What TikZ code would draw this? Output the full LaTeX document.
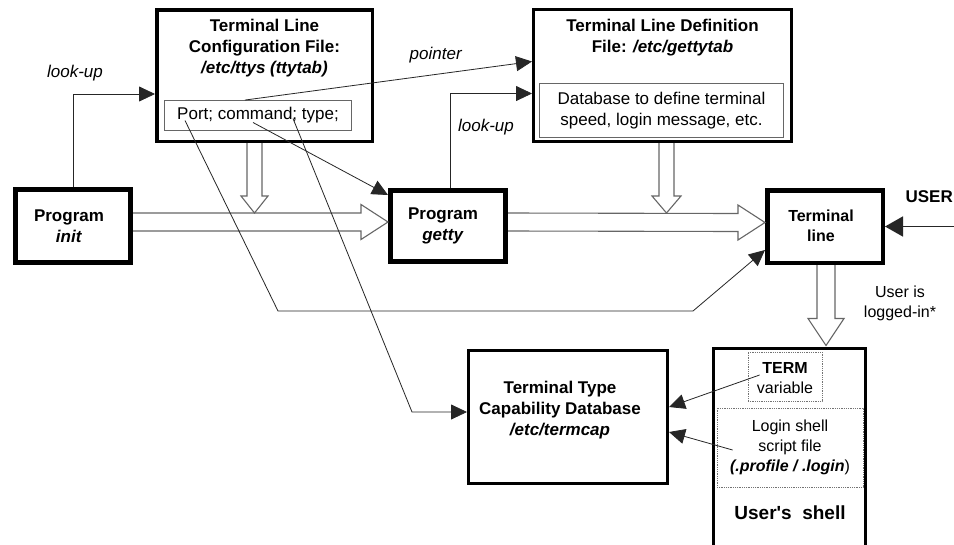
\documentclass[tikz,border=0pt]{standalone}
\usepackage{fontspec}
\setmainfont{Liberation Sans}
\usetikzlibrary{arrows.meta,calc}
\tikzset{
  box/.style={draw=black, inner sep=0pt},
  ibox/.style={draw=black!60, line width=1.1pt, inner sep=0pt},
  dbox/.style={draw=black!55, densely dotted, line width=0.8pt, inner sep=0pt},
  txt/.style={align=center, inner sep=0pt, font=\fontsize{17}{21}\selectfont},
  stxt/.style={align=center, inner sep=0pt, font=\fontsize{16}{20}\selectfont},
  conn/.style={draw=black!85, line width=0.8pt},
  tip/.style={-{Triangle[length=16pt,width=15pt]}},
  hollow/.style={draw=black!60, line width=1.1pt, fill=white, line join=miter}
}
\newcommand\hollowH[2]{%
  \draw[hollow] ($(#1.east)+(0,-13)$) -- ($(#2.west)+(-27,-13)$) -- ($(#2.west)+(-27,-21.5)$)
    -- ($(#2.west)+(0,-4)$) -- ($(#2.west)+(-27,13.5)$) -- ($(#2.west)+(-27,5)$) -- ($(#1.east)+(0,5)$);}
% #1 source node, #2 tip coordinate, #3 shaft half, #4 head half, #5 head length
\newcommand\hollowV[5]{%
  \draw[hollow] ($(#1.south -| #2)+(-#3,0)$) -- ($(#2)+(-#3,-#5)$) -- ($(#2)+(-#4,-#5)$) -- (#2)
    -- ($(#2)+(#4,-#5)$) -- ($(#2)+(#3,-#5)$) -- ($(#1.south -| #2)+(#3,0)$);}
\begin{document}
\begin{tikzpicture}[x=1pt,y=-1pt]
\useasboundingbox (0,0) rectangle (954,544);
\fill[white] (0,0) rectangle (954,544);
\clip (0,0) rectangle (954,544);

% main boxes
\node[box, line width=3.5pt, minimum width=215.5pt, minimum height=131.5pt] (config) at (264.5,75.5) {};
\node[box, line width=3pt, minimum width=258pt, minimum height=132pt] (defn) at (662.5,75.5) {};
\node[box, line width=5pt, minimum width=115pt, minimum height=73pt] (init) at (73,226) {};
\node[box, line width=5pt, minimum width=115pt, minimum height=71pt] (getty) at (448,226) {};
\node[box, line width=4.5pt, minimum width=115.5pt, minimum height=72.5pt] (term) at (825,226.5) {};
\node[box, line width=3pt, minimum width=199pt, minimum height=133pt] (termcap) at (568,417) {};
\node[box, line width=3pt, minimum width=152pt, minimum height=290pt] (shell) at (789.5,493.5) {};

% inner boxes
\node[ibox, minimum width=186.8pt, minimum height=29.8pt] (portbox) at (258,115.5) {};
\node[ibox, minimum width=243.8pt, minimum height=53.8pt] (dbbox) at (661.5,110.5) {};
\node[dbox, minimum width=74pt, minimum height=49pt] (termvar) at (785,376.5) {};
\node[dbox, minimum width=146pt, minimum height=79pt] (loginbox) at (790,447.5) {};

% texts
\node[txt] (configT) at (264.5,48) {\textbf{Terminal Line}\\\textbf{Configuration File:}\\\textbf{\textit{/etc/ttys (ttytab)}}};
\node[txt] (defnT) at (662.5,38) {\textbf{Terminal Line Definition}\\\textbf{File: \textit{/etc/gettytab}}};
\node[txt] (portT) at (258,115.5) {Port; command; type;};
\node[txt] (dbT) at (661.5,110.5) {Database to define terminal\\speed, login message, etc.};
\node[txt] (initT) at (69,226) {\textbf{Program}\\\textbf{\textit{init}}};
\node[txt] (gettyT) at (443,226) {\textbf{Program}\\\textbf{\textit{getty}}};
\node[stxt] (termT) at (821,226) {\textbf{Terminal}\\\textbf{line}};
\node[txt] (termcapT) at (560,410) {\textbf{Terminal Type}\\\textbf{Capability Database}\\\textbf{\textit{/etc/termcap}}};
\node[stxt] (termvarT) at (785,378) {\textbf{TERM}\\variable};
\node[stxt] (loginT) at (790,447) {Login shell\\script file\\\textbf{\textit{(.profile / .login}})};
\node[align=center, inner sep=0pt, font=\fontsize{19}{23}\selectfont\bfseries] (shellT) at (790,513) {User\textquotesingle s~~shell};
\node[stxt] (loggedT) at (900,303) {User is\\logged-in*};
\node[txt, anchor=east] (userT) at (953,197) {\textbf{USER}};
\node[txt] (lookup1) at (75,73) {\textit{look-up}};
\node[txt] (lookup2) at (486,127) {\textit{look-up}};
\node[txt] (pointerT) at (436,55) {\textit{pointer}};

% hollow arrows
\hollowH{init}{getty}
\hollowH{getty}{term}
\coordinate (t1) at (254.5,213);
\coordinate (t2) at (666.5,213);
\coordinate (t3) at (826,345.5);
\hollowV{config}{t1}{7.5}{13.5}{17}
\hollowV{defn}{t2}{7.5}{14.5}{17}
\hollowV{term}{t3}{9}{18}{27}

% thin connectors
\draw[conn,tip] (init.north) |- ($(config.west)+(0,18.5)$);
\draw[conn,tip] ($(getty.north)+(2,0)$) |- ($(defn.west)+(0,18)$);
\draw[conn,tip] ($(portbox.north)+(-13,0)$) -- ($(defn.west)+(0,-14)$);
\coordinate (b1) at (278,311);
\coordinate (b2) at (693,311);
\draw[conn,tip] ($(portbox.center)+(-73,5)$) -- (b1) -- (b2) -- ($(term.south west)+(0,-15)$);
\draw[conn,tip] ($(portbox.center)+(-5,7)$) -- ($(getty.north west)+(0,7)$);
\coordinate (b3) at (412,412);
\draw[conn,tip] ($(portbox.center)+(35,3)$) -- (b3) -- ($(termcap.west)+(0,-5)$);
\draw[conn,tip] ($(termvar.west)+(12,-1.5)$) -- ($(termcap.east)+(0,-10)$);
\draw[conn,tip] ($(loginbox.west)+(16,2.5)$) -- ($(termcap.east)+(0,15)$);
\coordinate (userpt) at (960,226.5);
\draw[conn,-{Triangle[length=18pt,width=20pt]}, line width=1.5pt] (userpt) -- (term.east);
\end{tikzpicture}
\end{document}
